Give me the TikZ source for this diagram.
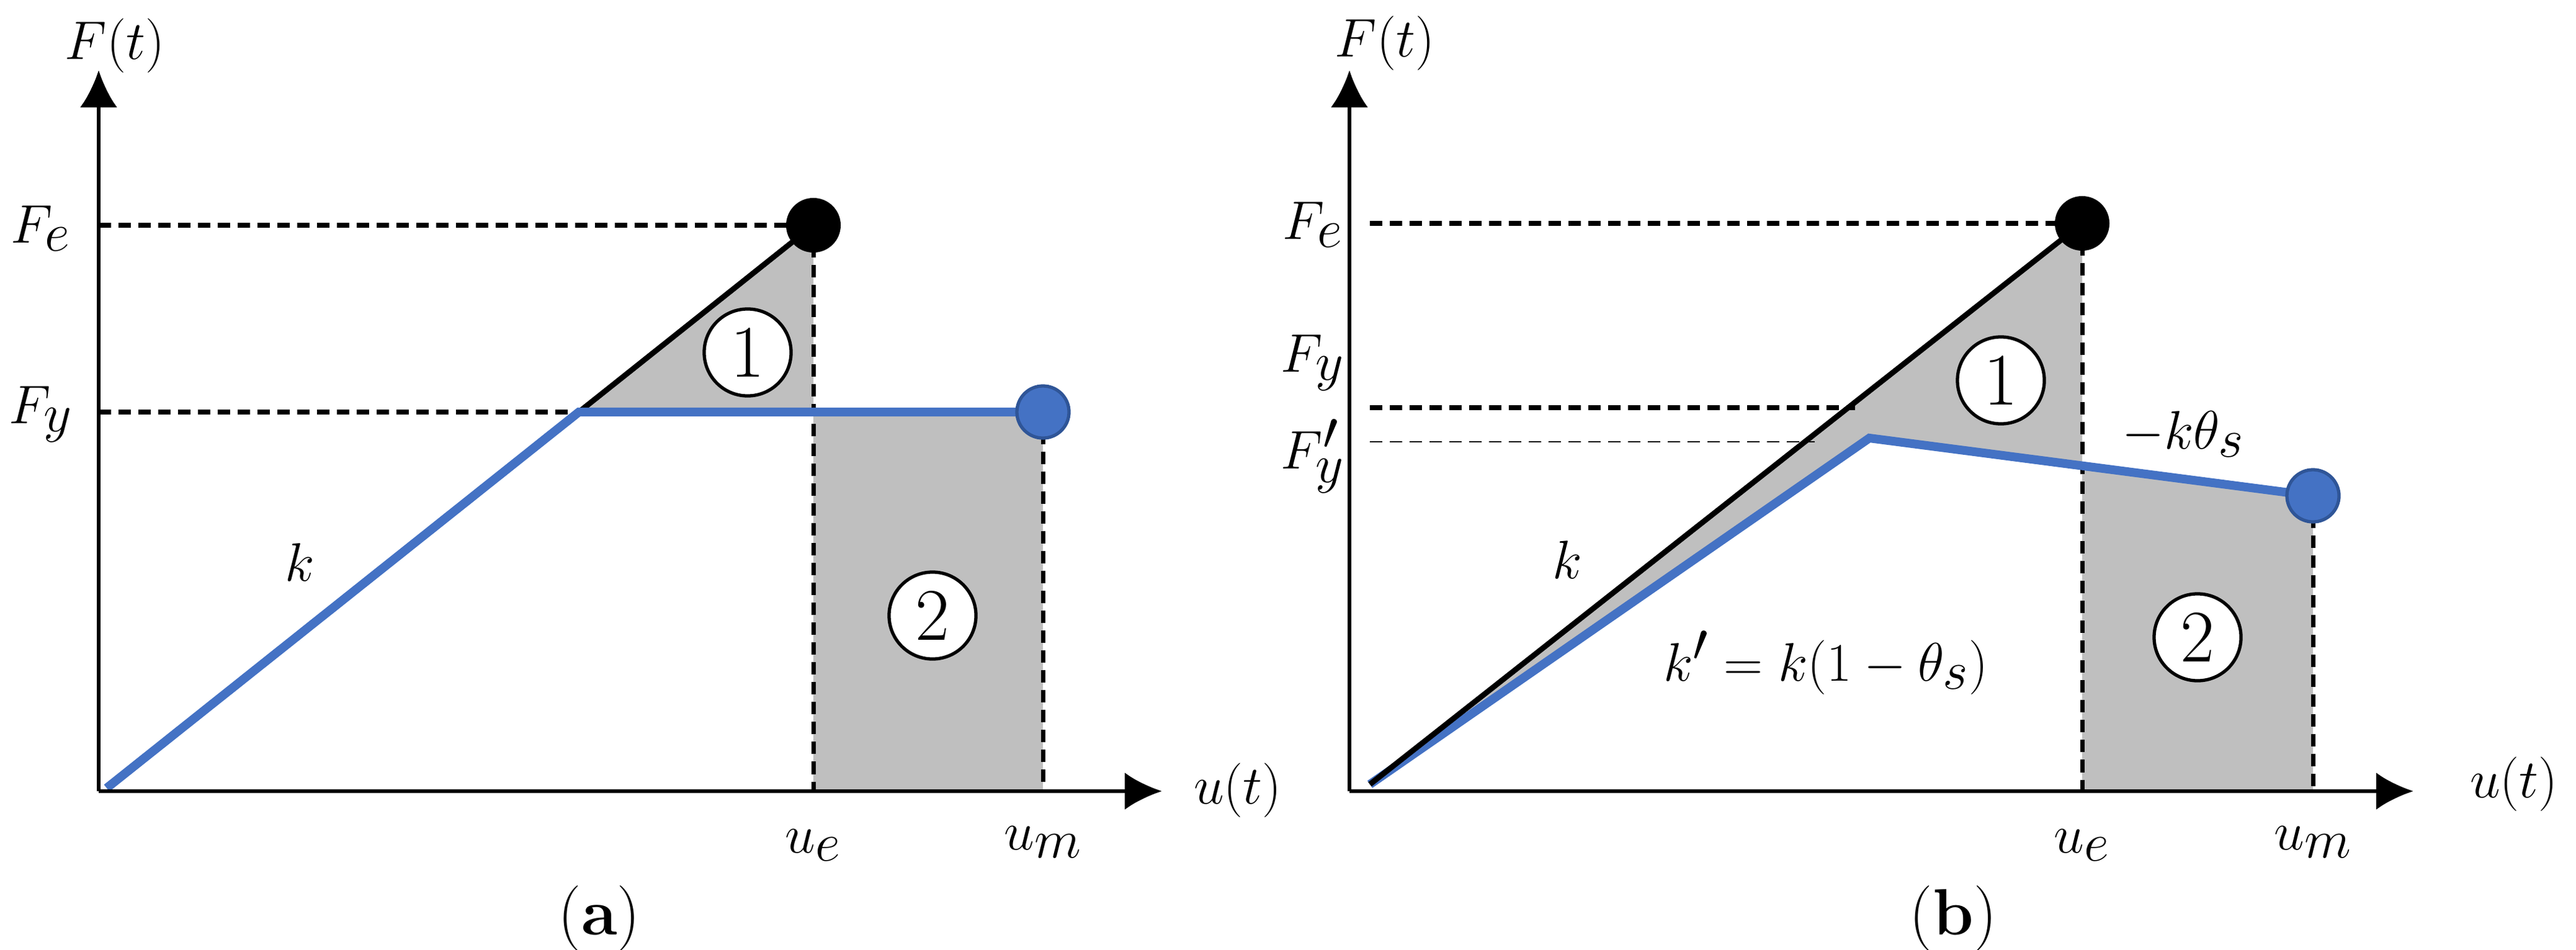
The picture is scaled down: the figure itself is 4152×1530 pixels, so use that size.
\documentclass[tikz,border=0pt]{standalone}
\usepackage{amsmath}
\usetikzlibrary{arrows.meta}
\begin{document}
\definecolor{bl}{RGB}{68,114,196}
\definecolor{bld}{RGB}{47,85,151}
\definecolor{gr}{RGB}{191,191,191}
\begin{tikzpicture}[x=0.01cm,y=-0.01cm,
  ax/.style={line width=1.8pt,-{Latex[length=0.6cm,width=0.6cm]}},
  dsh/.style={line width=2pt,dash pattern=on 0.2cm off 0.12cm},
  tdsh/.style={line width=0.8pt,dash pattern=on 0.2cm off 0.12cm},
  blu/.style={bl,line width=4pt},
  blk/.style={black,line width=2.5pt},
  num/.style={circle,draw,line width=1.5pt,fill=white,minimum size=1.4cm,inner sep=0pt,font=\fontsize{34}{38}\selectfont},
  lab/.style={font=\fontsize{40}{46}\selectfont,inner sep=0pt},
  capt/.style={font=\fontsize{30}{34}\selectfont,inner sep=0pt}]
\useasboundingbox (0,0) rectangle (4152,1530);
% ---------- panel a ----------
\coordinate (aO) at (159,1275);
\coordinate (aY) at (159,113);
\coordinate (aX) at (1873,1275);
\coordinate (aK) at (933,664);
\coordinate (aE) at (1311,363);
\coordinate (aEy) at (1311,664);
\coordinate (aM) at (1681,664);
\coordinate (aEb) at (1311,1275);
\coordinate (aMb) at (1681,1275);
\coordinate (aS) at (172,1270);
\fill[gr] (aK) -- (aE) -- (aEy) -- cycle;
\fill[gr] (aEy) rectangle (aMb);
\draw[dsh] (159,363) -- (aE);
\draw[dsh] (159,664) -- (aK);
\draw[dsh] (aE) -- (aEb);
\draw[dsh] (aM) -- (aMb);
\draw[blk] (aK) -- (aE);
\draw[blu] (aS) -- (aK) -- (aM);
\draw[ax] (aO) -- (aY);
\draw[ax] (aO) -- (aX);
\fill[black] (aE) circle (0.44cm);
\draw[fill=bl,draw=bld,line width=1.5pt] (aM) circle (0.42cm);
\node[num] (a1) at (1205,568) {1};
\node[num] (a2) at (1503,992) {2};
\node[lab] (aFt) at (185,74) {$F(t)$};
\node[lab] (aFe) at (66,368) {$F_e$};
\node[lab] (aFy) at (66,668) {$F_y$};
\node[lab] (ak) at (483,906) {$k$};
\node[lab] (aue) at (1311,1362) {$u_e$};
\node[lab] (aum) at (1681,1357) {$u_m$};
\node[lab] (aut) at (1995,1274) {$u(t)$};
\node[capt] (acap) at (966,1480) {(\textbf{a})};
% ---------- panel b ----------
\coordinate (bO) at (2175,1275);
\coordinate (bY) at (2175,113);
\coordinate (bX) at (3890,1275);
\coordinate (bS) at (2208,1264);
\coordinate (bE) at (3356,360);
\coordinate (bK) at (3013,706);
\coordinate (bM) at (3728,799);
\coordinate (bEy) at (3356,751);
\coordinate (bEb) at (3356,1275);
\coordinate (bMb) at (3728,1275);
\coordinate (bFyx) at (2990,657);
\fill[gr] (bS) -- (bE) -- (bEy) -- (bK) -- cycle;
\fill[gr] (bEb) -- (bEy) -- (bM) -- (bMb) -- cycle;
\draw[dsh] (2208,360) -- (bE);
\draw[dsh] (2208,657) -- (bFyx);
\draw[tdsh] (2208,712) -- (2925,712);
\draw[dsh] (bE) -- (bEb);
\draw[dsh] (bM) -- (bMb);
\draw[blu] (bS) -- (bK) -- (bM);
\draw[blk] (bS) -- (bE);
\draw[ax] (bO) -- (bY);
\draw[ax] (bO) -- (bX);
\fill[black] (bE) circle (0.44cm);
\draw[fill=bl,draw=bld,line width=1.5pt] (bM) circle (0.42cm);
\node[num] (b1) at (3225,613) {1};
\node[num] (b2) at (3542,1027) {2};
\node[lab] (bFt) at (2232,70) {$F(t)$};
\node[lab] (bFe) at (2116,362) {$F_e$};
\node[lab] (bFy) at (2116,585) {$F_y$};
\node[lab] (bFyp) at (2116,735) {$F_y'$};
\node[lab] (bk) at (2526,902) {$k$};
\node[lab] (bkp) at (2943,1068) {$k' = k(1-\theta_s)$};
\node[lab] (bkt) at (3519,700) {$-k\theta_s$};
\node[lab] (bue) at (3356,1362) {$u_e$};
\node[lab] (bum) at (3728,1357) {$u_m$};
\node[lab] (but) at (4052,1264) {$u(t)$};
\node[capt] (bcap) at (3148,1480) {(\textbf{b})};
\end{tikzpicture}
\end{document}
